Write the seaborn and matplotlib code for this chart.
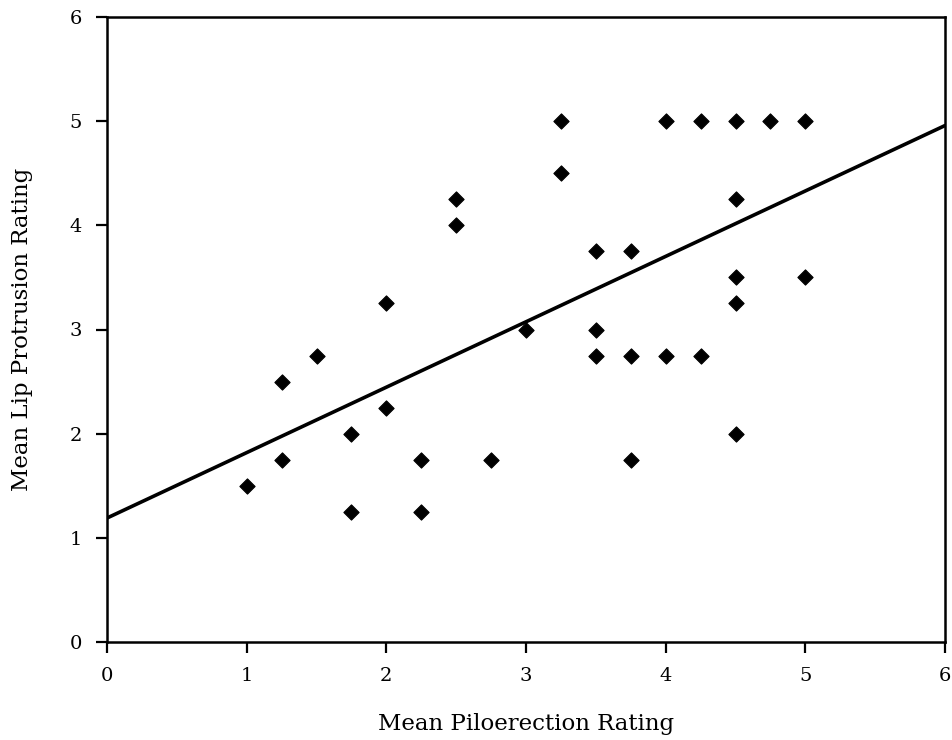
import numpy as np
import pandas as pd
import matplotlib
matplotlib.use("Agg")
import matplotlib.pyplot as plt
import seaborn as sns

piloerection = [1, 1.25, 1.25, 1.5, 1.75, 1.75, 2, 2, 2.25, 2.25, 2.5, 2.5, 2.75, 3,
                3.25, 3.25, 3.5, 3.5, 3.5, 3.75, 3.75, 3.75, 4, 4, 4.25, 4.25,
                4.5, 4.5, 4.5, 4.5, 4.5, 4.75, 5, 5]
lip_protrusion = [1.5, 2.5, 1.75, 2.75, 2, 1.25, 3.25, 2.25, 1.75, 1.25, 4.25, 4, 1.75, 3,
                  5, 4.5, 3.75, 3, 2.75, 3.75, 2.75, 1.75, 5, 2.75, 5, 2.75,
                  5, 4.25, 3.5, 3.25, 2, 5, 5, 3.5]
# fitted line as shown in the chart
fit_intercept = 1.19
fit_slope = 0.628
fit_x = [0, 6]
ticks = [0, 1, 2, 3, 4, 5, 6]

df = pd.DataFrame({"x": piloerection, "y": lip_protrusion})
fit_df = pd.DataFrame({"x": fit_x,
                       "y": [fit_intercept + fit_slope * v for v in fit_x]})

sns.set_style("ticks")
plt.rcParams['font.family'] = ['DejaVu Serif']
plt.rcParams['text.color'] = 'black'
plt.rcParams['axes.labelcolor'] = 'black'
plt.rcParams['xtick.color'] = 'black'
plt.rcParams['ytick.color'] = 'black'

fig = plt.figure(figsize=(9.53, 7.40), dpi=100)
ax = fig.add_axes([107/953, 1-642/740, (945-107)/953, (642-17)/740])

sns.lineplot(data=fit_df, x="x", y="y", ax=ax, color="black", lw=2.6, zorder=2)
sns.scatterplot(data=df, x="x", y="y", ax=ax, marker="D", s=60, color="black",
                edgecolor="black", linewidth=0.8, alpha=1, zorder=3)

ax.set_xlim(0, 6)
ax.set_ylim(0, 6)
ax.set_xticks(ticks)
ax.set_yticks(ticks)
ax.tick_params(direction="out", length=8, width=1.6, pad=10, labelsize=14, color="black")
for s in ax.spines.values():
    s.set_visible(True)
    s.set_linewidth(1.8)
    s.set_color("black")
ax.set_xlabel("Mean Piloerection Rating", fontsize=16.5, labelpad=20)
ax.set_ylabel("Mean Lip Protrusion Rating", fontsize=16.5, labelpad=26)

fig.savefig("out.png", dpi=100)
